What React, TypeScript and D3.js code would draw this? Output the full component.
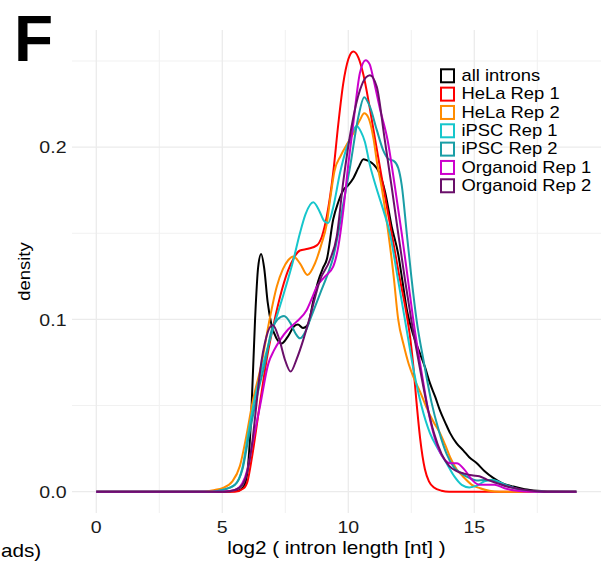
import React from "react";
import * as d3 from "d3";

type Pt = [number, number];

const seriesNames = ["all introns", "HeLa Rep 1", "HeLa Rep 2", "iPSC Rep 1", "iPSC Rep 2", "Organoid Rep 1", "Organoid Rep 2"];
const seriesColors = ["#000000", "#ff0000", "#ff8c00", "#16c6cc", "#1a9ea6", "#cc00cc", "#6a0f6a"];

const xTicks = [0, 5, 10, 15];
const xMinor = [2.5, 7.5, 12.5, 17.5];
const yTicks = [0, 0.1, 0.2];
const yMinor = [0.05, 0.15, 0.25];

const allIntrons: Pt[] = [[0,0],[5.0,0],[5.6,0.0005],[5.85,0.003],[6.0,0.012],[6.15,0.045],[6.3,0.1],[6.42,0.13],[6.54,0.138],[6.66,0.13],[6.8,0.11],[6.95,0.097],[7.15,0.089],[7.35,0.086],[7.6,0.09],[7.85,0.096],[8.0,0.097],[8.2,0.095],[8.4,0.097],[8.6,0.11],[8.8,0.122],[9.0,0.13],[9.15,0.135],[9.4,0.158],[9.6,0.168],[9.8,0.175],[10.0,0.178],[10.2,0.182],[10.4,0.188],[10.6,0.193],[10.8,0.192],[11.0,0.19],[11.2,0.186],[11.46,0.174],[11.72,0.154],[11.98,0.138],[12.15,0.122],[12.33,0.105],[12.6,0.09],[12.85,0.08],[13.05,0.072],[13.24,0.063],[13.45,0.055],[13.64,0.047],[13.85,0.04],[14.04,0.034],[14.3,0.028],[14.56,0.024],[14.8,0.02],[15.1,0.0165],[15.4,0.012],[15.75,0.008],[16.1,0.005],[16.55,0.003],[17.0,0.0015],[17.5,0.0006],[18.0,0.0001],[19.05,0]];
const helaRep1: Pt[] = [[0,0],[5.5,0],[5.85,0.002],[6.0,0.006],[6.2,0.022],[6.5,0.052],[6.8,0.08],[7.05,0.098],[7.29,0.113],[7.6,0.128],[7.85,0.136],[8.08,0.14],[8.4,0.141],[8.75,0.143],[8.95,0.148],[9.15,0.16],[9.4,0.185],[9.6,0.213],[9.8,0.237],[10.0,0.251],[10.2,0.2555],[10.4,0.252],[10.6,0.242],[10.8,0.227],[11.0,0.21],[11.2,0.193],[11.39,0.177],[11.72,0.15],[12.0,0.127],[12.3,0.104],[12.45,0.09],[12.58,0.073],[12.7,0.053],[12.85,0.031],[13.04,0.013],[13.2,0.006],[13.4,0.0025],[13.7,0.0006],[14.0,0],[19.05,0]];
const helaRep2: Pt[] = [[0,0],[4.3,0],[4.7,0.001],[5.0,0.002],[5.4,0.006],[5.7,0.015],[5.95,0.032],[6.2,0.052],[6.56,0.0745],[6.85,0.098],[7.16,0.119],[7.4,0.129],[7.62,0.1345],[7.82,0.1365],[8.08,0.1326],[8.38,0.1258],[8.68,0.1326],[8.94,0.144],[9.14,0.155],[9.3,0.172],[9.45,0.186],[9.7,0.195],[10.0,0.203],[10.2,0.208],[10.46,0.2157],[10.63,0.2196],[10.8,0.217],[11.0,0.205],[11.15,0.19],[11.32,0.177],[11.59,0.15],[11.8,0.125],[11.98,0.1],[12.2,0.085],[12.4,0.074],[12.6,0.066],[12.85,0.058],[13.1,0.049],[13.4,0.04],[13.64,0.034],[13.85,0.027],[14.04,0.02],[14.3,0.013],[14.56,0.0087],[14.9,0.004],[15.23,0.002],[15.6,0.0005],[16.0,0],[19.05,0]];
const ipscRep1: Pt[] = [[0,0],[4.6,0],[5.0,0.001],[5.5,0.004],[5.8,0.014],[6.03,0.034],[6.3,0.055],[6.63,0.0745],[7.0,0.094],[7.42,0.114],[7.82,0.1345],[8.08,0.15],[8.3,0.161],[8.61,0.168],[8.85,0.163],[9.05,0.157],[9.2,0.156],[9.4,0.165],[9.67,0.185],[9.9,0.198],[10.07,0.205],[10.33,0.2122],[10.5,0.209],[10.66,0.203],[10.85,0.19],[11.1,0.177],[11.4,0.163],[11.65,0.15],[11.95,0.125],[12.25,0.0996],[12.6,0.07],[12.9,0.05],[13.24,0.034],[13.55,0.025],[13.9,0.0165],[14.2,0.009],[14.5,0.004],[14.8,0.0025],[15.1,0.0035],[15.4,0.006],[15.7,0.007],[16.0,0.0055],[16.4,0.003],[16.8,0.0012],[17.3,0.0002],[17.8,0],[19.05,0]];
const ipscRep2: Pt[] = [[0,0],[4.6,0],[5.0,0.001],[5.5,0.004],[5.8,0.013],[6.05,0.032],[6.4,0.057],[6.69,0.0745],[6.96,0.094],[7.2,0.1],[7.45,0.102],[7.7,0.098],[7.9,0.092],[8.08,0.089],[8.3,0.093],[8.48,0.0997],[8.88,0.115],[9.2,0.127],[9.4,0.136],[9.6,0.15],[9.8,0.167],[10.07,0.1886],[10.4,0.2176],[10.63,0.229],[10.86,0.2234],[11.13,0.21],[11.39,0.198],[11.6,0.193],[11.8,0.192],[11.98,0.188],[12.12,0.178],[12.32,0.15],[12.5,0.125],[12.71,0.0996],[13.0,0.075],[13.3,0.052],[13.6,0.035],[13.9,0.022],[14.2,0.014],[14.5,0.0105],[14.8,0.008],[15.1,0.0065],[15.4,0.0068],[15.7,0.0065],[16.0,0.0048],[16.4,0.003],[16.8,0.0012],[17.3,0.0002],[17.8,0],[19.05,0]];
const organoidRep1: Pt[] = [[0,0],[5.0,0],[5.5,0.001],[5.8,0.005],[6.0,0.013],[6.2,0.028],[6.5,0.05],[6.83,0.0745],[7.05,0.082],[7.29,0.088],[7.6,0.094],[7.95,0.0987],[8.35,0.1055],[8.55,0.112],[8.75,0.119],[9.07,0.1248],[9.4,0.1306],[9.6,0.142],[9.8,0.163],[10.0,0.19],[10.2,0.214],[10.46,0.243],[10.69,0.2505],[10.85,0.248],[10.99,0.24],[11.26,0.222],[11.56,0.204],[11.85,0.177],[12.12,0.15],[12.35,0.125],[12.58,0.0996],[12.9,0.07],[13.2,0.045],[13.5,0.028],[13.8,0.019],[14.05,0.0165],[14.3,0.0165],[14.6,0.013],[14.9,0.007],[15.2,0.004],[15.5,0.004],[15.8,0.004],[16.2,0.002],[16.7,0.0005],[17.2,0],[19.05,0]];
const organoidRep2: Pt[] = [[0,0],[5.1,0],[5.5,0.001],[5.8,0.004],[6.0,0.012],[6.2,0.03],[6.35,0.05],[6.5,0.07],[6.75,0.09],[7.0,0.0967],[7.25,0.089],[7.5,0.076],[7.71,0.0697],[7.95,0.077],[8.21,0.088],[8.48,0.1016],[8.88,0.1229],[9.27,0.1345],[9.54,0.148],[9.8,0.18],[10.13,0.212],[10.46,0.233],[10.7,0.2405],[10.86,0.2418],[11.13,0.235],[11.43,0.206],[11.72,0.177],[11.98,0.15],[12.25,0.123],[12.5,0.0996],[12.8,0.075],[13.1,0.052],[13.4,0.034],[13.7,0.022],[14.0,0.015],[14.3,0.012],[14.6,0.0105],[14.9,0.0095],[15.2,0.009],[15.5,0.007],[15.9,0.005],[16.3,0.003],[16.8,0.0015],[17.5,0.0003],[18.0,0],[19.05,0]];

const seriesData: Pt[][] = [allIntrons, helaRep1, helaRep2, ipscRep1, ipscRep2, organoidRep1, organoidRep2];

const FONT = "'Liberation Sans', Arial, Helvetica, sans-serif";
const SX = 1.15;

function T(props: { x: number; y: number; size: number; anchor?: string; rotate?: number; weight?: string; fill?: string; sx?: number; children: React.ReactNode }) {
  const { x, y, size, anchor = "start", rotate = 0, weight = "normal", fill = "#000", sx = SX, children } = props;
  return (
    <text
      transform={`translate(${x},${y}) rotate(${rotate}) scale(${sx},1)`}
      fontSize={size}
      fontFamily={FONT}
      fontWeight={weight}
      textAnchor={anchor}
      fill={fill}
    >
      {children}
    </text>
  );
}

export default function App() {
  const W = 607, H = 562;
  const panel = { left: 72, right: 601, top: 30, bottom: 513 };
  const x = d3.scaleLinear().domain([0, 19]).range([96.3, 575.1]);
  const y = d3.scaleLinear().domain([0, 0.25]).range([491.7, 61.0]);
  const line = d3.line<Pt>().x((d) => x(d[0])).y((d) => y(d[1])).curve(d3.curveMonotoneX);

  return (
    <svg width={W} height={H} style={{ position: "absolute", left: 0, top: 0, background: "#fff" }}>
      <rect x={0} y={0} width={W} height={H} fill="#fff" />
      {/* minor grid */}
      {xMinor.map((t) => (
        <line key={"xm" + t} x1={x(t)} x2={x(t)} y1={panel.top} y2={panel.bottom} stroke="#f1f1f1" strokeWidth={1} />
      ))}
      {yMinor.map((t) => (
        <line key={"ym" + t} x1={panel.left} x2={panel.right} y1={y(t)} y2={y(t)} stroke="#f1f1f1" strokeWidth={1} />
      ))}
      {/* major grid */}
      {xTicks.map((t) => (
        <line key={"xM" + t} x1={x(t)} x2={x(t)} y1={panel.top} y2={panel.bottom} stroke="#ebebeb" strokeWidth={1.3} />
      ))}
      {yTicks.map((t) => (
        <line key={"yM" + t} x1={panel.left} x2={panel.right} y1={y(t)} y2={y(t)} stroke="#ebebeb" strokeWidth={1.3} />
      ))}

      {/* density curves */}
      {seriesData.map((s, i) => (
        <path key={seriesNames[i]} d={line(s) || ""} fill="none" stroke={seriesColors[i]} strokeWidth={2} strokeLinejoin="round" />
      ))}

      {/* tick labels */}
      {xTicks.map((t) => (
        <T key={"xl" + t} x={x(t)} y={533} size={17} anchor="middle" fill="#1a1a1a">
          {String(t)}
        </T>
      ))}
      {yTicks.map((t) => (
        <T key={"yl" + t} x={66.5} y={y(t) + 6.2} size={17} anchor="end" fill="#1a1a1a">
          {d3.format(".1f")(t)}
        </T>
      ))}

      {/* axis titles */}
      <T x={(panel.left + panel.right) / 2} y={553.5} size={18} anchor="middle">log2 ( intron length [nt] )</T>
      <T x={30} y={(panel.top + panel.bottom) / 2} size={16} anchor="middle" rotate={-90}>density</T>

      {/* visible end of a neighbouring panel's label */}
      <T x={1} y={557} size={18} anchor="start">ads)</T>

      {/* panel letter */}
      <T x={14} y={61} size={64} weight="bold" sx={1}>F</T>

      {/* legend */}
      {seriesNames.map((n, i) => (
        <g key={"lg" + n}>
          <rect x={441} y={69.3 + i * 18.33} width={13} height={13} fill="#fff" stroke={seriesColors[i]} strokeWidth={2} />
          <T x={461.5} y={81 + i * 18.33} size={16}>{n}</T>
        </g>
      ))}
    </svg>
  );
}
